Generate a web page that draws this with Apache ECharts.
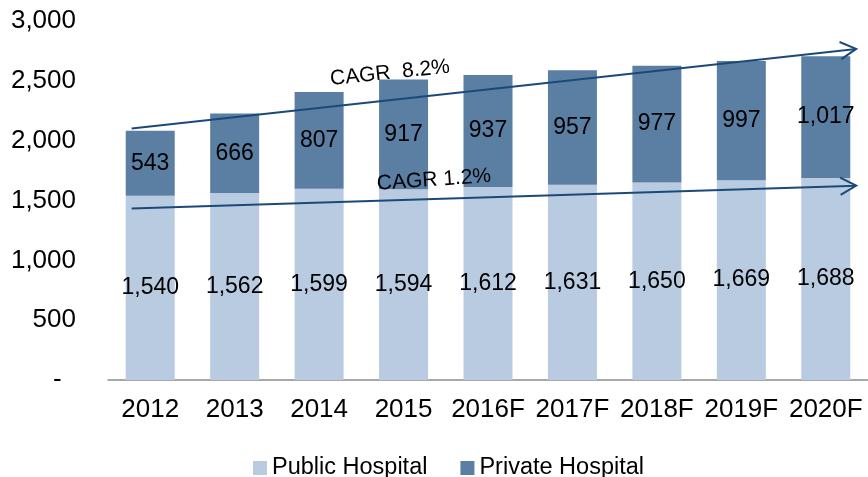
<!DOCTYPE html>
<html>
<head>
<meta charset="utf-8">
<script src="https://cdn.jsdelivr.net/npm/echarts@6/dist/echarts.min.js"></script>
<style>
  html, body { margin: 0; padding: 0; background: #fff; }
  #chart { width: 868px; height: 477px; }
</style>
</head>
<body>
<div id="chart"></div>
<script>
// Hospital counts by year, public vs private (stacked)
const years = ['2012', '2013', '2014', '2015', '2016F', '2017F', '2018F', '2019F', '2020F'];
const publicHospital = [1540, 1562, 1599, 1594, 1612, 1631, 1650, 1669, 1688];
const privateHospital = [543, 666, 807, 917, 937, 957, 977, 997, 1017];
const yTicks = [0, 500, 1000, 1500, 2000, 2500, 3000];

// Trend arrows: [startIndex, startValue, endIndex, endValue]
const totalTrend = [-0.22, 2101, 8.36, 2767];
const publicTrend = [-0.22, 1434, 8.36, 1624];
const trendLabels = ['CAGR  8.2%', 'CAGR 1.2%'];

const FONT = '"Liberation Sans", Arial, sans-serif';
const ARROW = '#1b4a78';

const fmt = v => v === 0 ? '-  ' : v.toLocaleString('en-US');

const chart = echarts.init(document.getElementById('chart'));

function renderArrow(params, api) {
  const p0 = api.coord([api.value(0), api.value(1)]);
  const p1 = api.coord([api.value(2), api.value(3)]);
  const ang = Math.atan2(p1[1] - p0[1], p1[0] - p0[0]);
  const len = 18, spread = 0.5;
  const a = [p1[0] - len * Math.cos(ang - spread), p1[1] - len * Math.sin(ang - spread)];
  const b = [p1[0] - len * Math.cos(ang + spread), p1[1] - len * Math.sin(ang + spread)];
  return {
    type: 'group',
    children: [
      { type: 'line', shape: { x1: p0[0], y1: p0[1], x2: p1[0], y2: p1[1] },
        style: { stroke: ARROW, lineWidth: 2 } },
      { type: 'polyline', shape: { points: [a, p1, b] },
        style: { stroke: ARROW, lineWidth: 2, fill: null } }
    ]
  };
}

chart.setOption({
  animation: false,
  textStyle: { fontFamily: FONT },
  grid: { left: 108, right: -5, top: 21, bottom: 97 },
  legend: {
    data: ['Public Hospital', 'Private Hospital'],
    left: 248, top: 451,
    itemWidth: 14, itemHeight: 14, itemGap: 33,
    icon: 'rect',
    textStyle: { fontSize: 23.5, color: '#000', fontFamily: FONT }
  },
  xAxis: [{
    type: 'category',
    data: years,
    axisLine: { lineStyle: { color: '#8c8c8c', width: 1.5 } },
    axisTick: { show: false },
    axisLabel: { fontSize: 26, color: '#000', margin: 17, fontFamily: FONT, interval: 0 }
  }, {
    type: 'value', min: -0.5, max: 8.5, show: false
  }],
  yAxis: {
    type: 'value',
    min: yTicks[0], max: yTicks[yTicks.length - 1], interval: 500,
    axisLine: { show: false },
    axisTick: { show: false },
    splitLine: { show: false },
    axisLabel: { fontSize: 26, color: '#000', margin: 32, fontFamily: FONT, formatter: fmt }
  },
  series: [{
    name: 'Public Hospital',
    type: 'bar', stack: 'total', barWidth: 49,
    data: publicHospital,
    itemStyle: { color: '#b8cbe0' },
    label: { show: true, position: 'inside', fontSize: 23, color: '#000', fontFamily: FONT, formatter: p => fmt(p.value) }
  }, {
    name: 'Private Hospital',
    type: 'bar', stack: 'total', barWidth: 49,
    data: privateHospital,
    itemStyle: { color: '#5b7ea3' },
    label: { show: true, position: 'inside', fontSize: 23, color: '#000', fontFamily: FONT, formatter: p => fmt(p.value) }
  }, {
    type: 'custom',
    xAxisIndex: 1,
    silent: true,
    renderItem: renderArrow,
    encode: { x: [0, 2], y: [1, 3] },
    data: [totalTrend, publicTrend],
    z: 5
  }],
  graphic: [{
    type: 'text', x: 390, y: 73, rotation: 6 * Math.PI / 180, z: 100,
    style: { text: trendLabels[0], fontSize: 21, fill: '#000', fontFamily: FONT, align: 'center', verticalAlign: 'middle' }
  }, {
    type: 'text', x: 434, y: 180, rotation: 4 * Math.PI / 180, z: 100,
    style: { text: trendLabels[1], fontSize: 21, fill: '#000', fontFamily: FONT, align: 'center', verticalAlign: 'middle' }
  }]
});
</script>
</body>
</html>
